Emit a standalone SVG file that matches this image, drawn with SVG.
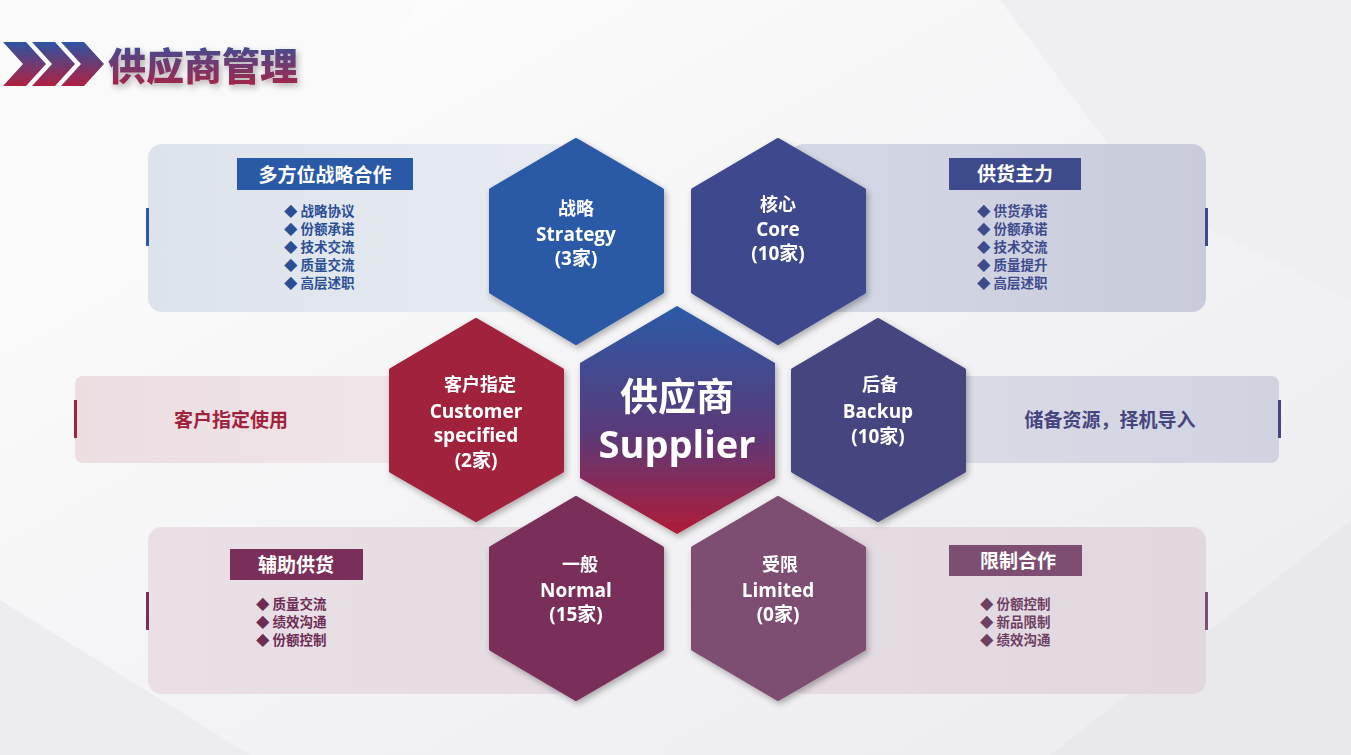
<svg xmlns="http://www.w3.org/2000/svg" width="1351" height="755" viewBox="0 0 1351 755">
<defs>
<linearGradient id="bg" x1="0" y1="0" x2="1" y2="1"><stop offset="0" stop-color="#ffffff"/><stop offset="0.5" stop-color="#f4f4f6"/><stop offset="1" stop-color="#ececef"/></linearGradient>
<linearGradient id="title" x1="0" y1="0" x2="0" y2="1"><stop offset="0" stop-color="#2c55a3"/><stop offset="1" stop-color="#b02040"/></linearGradient>
<linearGradient id="center" x1="0" y1="0" x2="0" y2="1"><stop offset="0" stop-color="#2a5aa6"/><stop offset="0.55" stop-color="#5a3a7a"/><stop offset="1" stop-color="#b01c38"/></linearGradient>
<linearGradient id="pblue" x1="0" y1="0" x2="1" y2="0"><stop offset="0" stop-color="#dde3ec"/><stop offset="1" stop-color="#e8ebf1"/></linearGradient>
<linearGradient id="pblue2" x1="0" y1="0" x2="1" y2="0"><stop offset="0" stop-color="#d5d8e6"/><stop offset="1" stop-color="#c9cbdc"/></linearGradient>
<linearGradient id="ppink" x1="0" y1="0" x2="1" y2="0"><stop offset="0" stop-color="#ecdde1"/><stop offset="1" stop-color="#f0e6e9"/></linearGradient>
<linearGradient id="pbk" x1="0" y1="0" x2="1" y2="0"><stop offset="0" stop-color="#dadbe6"/><stop offset="1" stop-color="#d2d3e1"/></linearGradient>
<linearGradient id="pbl" x1="0" y1="0" x2="1" y2="0"><stop offset="0" stop-color="#e9dfe5"/><stop offset="1" stop-color="#e5dde3"/></linearGradient>
<linearGradient id="pbr" x1="0" y1="0" x2="1" y2="0"><stop offset="0" stop-color="#e6dce3"/><stop offset="1" stop-color="#e0d7df"/></linearGradient>
<filter id="sh" x="-20%" y="-20%" width="140%" height="140%"><feDropShadow dx="2" dy="3" stdDeviation="3" flood-opacity="0.3"/></filter>
</defs>
<style>
.hx{font-family:"Open Sans","Noto Sans CJK SC",sans-serif;font-weight:bold;fill:#fff;text-anchor:middle;font-size:19px}
.hs{font-size:18px}
.big{font-size:38px}
.lab{font-family:"Noto Sans CJK SC",sans-serif;font-weight:bold;fill:#fff;font-size:19px;text-anchor:middle}
.li{font-family:"Noto Sans CJK SC",sans-serif;font-weight:bold;font-size:13.5px}
.mid{font-family:"Noto Sans CJK SC",sans-serif;font-weight:bold;font-size:19px;text-anchor:middle}
</style>
<rect width="1351" height="755" fill="url(#bg)"/>
<polygon points="0,0 420,0 300,170 0,260" fill="#fafafa"/>
<polygon points="1000,0 1351,0 1351,300 1150,200" fill="#efeff2"/>
<polygon points="0,600 250,755 0,755" fill="#ededf0"/>
<polygon points="1050,755 1351,520 1351,755" fill="#e9e9ed"/>
<g id="title-bar">
<polygon points="3,42 26,42 46,64 26,86 3,86 23,64" fill="url(#title)"/>
<polygon points="32,42 55,42 75,64 55,86 32,86 52,64" fill="url(#title)"/>
<polygon points="61,42 84,42 104,64 84,86 61,86 81,64" fill="url(#title)"/>
<text x="108" y="80" font-family="Noto Sans CJK SC,sans-serif" font-weight="900" font-size="38" fill="url(#title)" filter="url(#sh)">供应商管理</text>
</g>
<g id="panels">
<rect x="148" y="144" width="420" height="168" rx="14" fill="url(#pblue)"/>
<rect x="790" y="144" width="416" height="168" rx="14" fill="url(#pblue2)"/>
<rect x="75" y="376" width="350" height="87" rx="8" fill="url(#ppink)"/>
<rect x="930" y="376" width="349" height="87" rx="8" fill="url(#pbk)"/>
<rect x="148" y="527" width="420" height="167" rx="14" fill="url(#pbl)"/>
<rect x="790" y="527" width="416" height="167" rx="14" fill="url(#pbr)"/>
<rect x="146" y="208" width="3" height="38" fill="#2a5aa5"/>
<rect x="1205" y="208" width="3" height="38" fill="#3d4a8c"/>
<rect x="74" y="400" width="3" height="38" fill="#a0233e"/>
<rect x="1278" y="400" width="3" height="38" fill="#454580"/>
<rect x="146" y="592" width="3" height="38" fill="#7a2f5a"/>
<rect x="1205" y="592" width="3" height="38" fill="#7e4e72"/>
</g>
<g id="panel-tl">
<rect x="237" y="158" width="176" height="32" fill="#2a5aa5"/>
<text class="lab" x="325" y="182">多方位战略合作</text>
<g class="li" fill="#2a4f95"><text x="284" y="216">◆ 战略协议</text><text x="284" y="234">◆ 份额承诺</text><text x="284" y="252">◆ 技术交流</text><text x="284" y="270">◆ 质量交流</text><text x="284" y="288">◆ 高层述职</text></g>
</g>
<g id="panel-tr">
<rect x="949" y="158" width="132" height="32" fill="#3d4a8c"/>
<text class="lab" x="1015" y="181">供货主力</text>
<g class="li" fill="#3d4a8c"><text x="977" y="216">◆ 供货承诺</text><text x="977" y="234">◆ 份额承诺</text><text x="977" y="252">◆ 技术交流</text><text x="977" y="270">◆ 质量提升</text><text x="977" y="288">◆ 高层述职</text></g>
</g>
<text class="mid" x="231" y="427" fill="#a0233e">客户指定使用</text>
<text class="mid" x="1110" y="427" fill="#454580">储备资源，择机导入</text>
<g id="panel-bl">
<rect x="230" y="549" width="133" height="31" fill="#7a2f5a"/>
<text class="lab" x="296" y="572">辅助供货</text>
<g class="li" fill="#6e2c55"><text x="256" y="609">◆ 质量交流</text><text x="256" y="627">◆ 绩效沟通</text><text x="256" y="645">◆ 份额控制</text></g>
</g>
<g id="panel-br">
<rect x="949" y="545" width="133" height="31" fill="#7e4e72"/>
<text class="lab" x="1018" y="568">限制合作</text>
<g class="li" fill="#6e3f63"><text x="980" y="609">◆ 份额控制</text><text x="980" y="627">◆ 新品限制</text><text x="980" y="645">◆ 绩效沟通</text></g>
</g>
<g id="hex-strategy" filter="url(#sh)">
<polygon points="576,140 662,190 662,292 576,343 491,292 491,190" fill="#2a5aa5" stroke="#2a5aa5" stroke-width="4" stroke-linejoin="round"/>
<text class="hx hs" x="576" y="215">战略</text><text class="hx" x="576" y="241">Strategy</text><text class="hx" x="576" y="265">(3家)</text>
</g>
<g id="hex-core" filter="url(#sh)">
<polygon points="778,140 864,190 864,292 778,343 693,292 693,190" fill="#3d4a8c" stroke="#3d4a8c" stroke-width="4" stroke-linejoin="round"/>
<text class="hx hs" x="778" y="211">核心</text><text class="hx" x="778" y="236">Core</text><text class="hx" x="778" y="260">(10家)</text>
</g>
<g id="hex-customer" filter="url(#sh)">
<polygon points="476,320 562,370 562,471 476,520 391,471 391,370" fill="#a0233e" stroke="#a0233e" stroke-width="4" stroke-linejoin="round"/>
<text class="hx hs" x="480" y="391">客户指定</text><text class="hx" x="476" y="418">Customer</text><text class="hx" x="476" y="442">specified</text><text class="hx" x="476" y="467">(2家)</text>
</g>
<g id="hex-center" filter="url(#sh)">
<polygon points="677,306 775,363 775,478 677,534 580,478 580,363" fill="url(#center)"/>
<text class="hx big" x="677" y="410">供应商</text><text class="hx big" x="677" y="458">Supplier</text>
</g>
<g id="hex-backup" filter="url(#sh)">
<polygon points="878,320 964,370 964,471 878,520 793,471 793,370" fill="#454580" stroke="#454580" stroke-width="4" stroke-linejoin="round"/>
<text class="hx hs" x="880" y="391">后备</text><text class="hx" x="878" y="418">Backup</text><text class="hx" x="878" y="443">(10家)</text>
</g>
<g id="hex-normal" filter="url(#sh)">
<polygon points="576,498 662,548 662,649 576,699 491,649 491,548" fill="#7a2f5a" stroke="#7a2f5a" stroke-width="4" stroke-linejoin="round"/>
<text class="hx hs" x="580" y="571">一般</text><text class="hx" x="576" y="597">Normal</text><text class="hx" x="576" y="621">(15家)</text>
</g>
<g id="hex-limited" filter="url(#sh)">
<polygon points="778,498 864,548 864,649 778,699 693,649 693,548" fill="#7e4e72" stroke="#7e4e72" stroke-width="4" stroke-linejoin="round"/>
<text class="hx hs" x="780" y="571">受限</text><text class="hx" x="778" y="597">Limited</text><text class="hx" x="778" y="621">(0家)</text>
</g>
<g id="connectors"/>
</svg>
